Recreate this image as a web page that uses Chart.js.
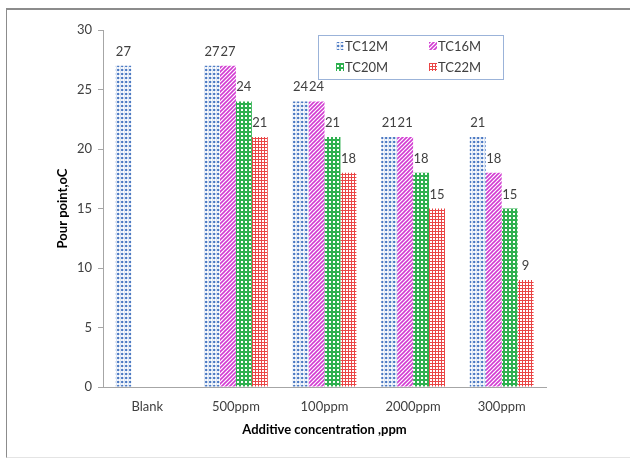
<!DOCTYPE html>
<html>
<head>
<meta charset="utf-8">
<script src="https://cdn.jsdelivr.net/npm/chart.js@4/dist/chart.umd.min.js"></script>
<style>
  html, body { margin: 0; padding: 0; background: #fff; overflow: hidden; }
  #wrap { position: relative; width: 630px; height: 459px; overflow: hidden; }
  #frame { position: absolute; left: 6px; top: 8px; width: 624px; height: 450px;
           border-top: 2px solid #8c8c8c; border-left: 1px solid #8c8c8c;
           border-bottom: 1px solid #e4e4e4; box-sizing: border-box; }
  #c { position: absolute; left: 0; top: 0; }
</style>
</head>
<body>
<div id="wrap">
  <div id="frame"></div>
  <canvas id="c" width="630" height="459"></canvas>
</div>
<script>
// Pour point (°C) per additive concentration
const categories = ['Blank', '500ppm', '100ppm', '2000ppm', '300ppm'];
const seriesNames = ['TC12M', 'TC16M', 'TC20M', 'TC22M'];
const tc12m = [27, 27, 24, 21, 21];
const tc16m = [null, 27, 24, 21, 18];
const tc20m = [null, 24, 21, 18, 15];
const tc22m = [null, 21, 18, 15, 9];
const yTicks = [0, 5, 10, 15, 20, 25, 30];

const FONT = 'Lato, "Open Sans", "Liberation Sans", sans-serif';
const TEXT = '#404040';
const AXIS = '#a6a6a6';

// --- fill patterns -------------------------------------------------------
function makeTile(w, h, paint) {
  const c = document.createElement('canvas');
  c.width = w; c.height = h;
  paint(c.getContext('2d'), w, h);
  return document.createElement('canvas').getContext('2d').createPattern(c, 'repeat');
}
// dotted diamonds, blue
const bluePattern = makeTile(4, 4, (g) => {
  g.fillStyle = '#ffffff'; g.fillRect(0, 0, 4, 4);
  g.fillStyle = '#dbe5f4'; g.fillRect(0, 0, 1, 4);
  g.fillStyle = '#4a78c2';
  g.beginPath(); g.arc(2.2, 2, 1.25, 0, Math.PI * 2); g.fill();
});
// wide upward diagonal, magenta
const magentaPattern = makeTile(4, 4, (g) => {
  g.fillStyle = '#ffffff'; g.fillRect(0, 0, 4, 4);
  g.strokeStyle = '#d23bd2'; g.lineWidth = 1.6;
  [[-1, 1, 1, -1], [0, 4, 4, 0], [3, 5, 5, 3]].forEach(([a, b, c2, d]) => {
    g.beginPath(); g.moveTo(a, b); g.lineTo(c2, d); g.stroke();
  });
});
// green with small white checks
const greenPattern = makeTile(4, 4, (g) => {
  g.fillStyle = '#2eb04f'; g.fillRect(0, 0, 4, 4);
  g.fillStyle = '#ffffff'; g.fillRect(1, 1, 2, 2);
});
// fine red grid
const redPattern = makeTile(3, 3, (g) => {
  g.fillStyle = '#ffffff'; g.fillRect(0, 0, 3, 3);
  g.fillStyle = '#ea4545';
  g.fillRect(0, 0, 3, 1); g.fillRect(0, 0, 1, 3);
});

const fills = [bluePattern, magentaPattern, greenPattern, redPattern];
const values = [tc12m, tc16m, tc20m, tc22m];

// --- value labels above each bar -----------------------------------------
const barValueLabels = {
  id: 'barValueLabels',
  afterDatasetsDraw(chart) {
    const ctx = chart.ctx;
    ctx.save();
    ctx.font = '13px ' + FONT;
    ctx.fillStyle = TEXT;
    ctx.textAlign = 'center';
    ctx.textBaseline = 'alphabetic';
    chart.data.datasets.forEach((ds, i) => {
      chart.getDatasetMeta(i).data.forEach((bar, j) => {
        const v = ds.data[j];
        if (v == null) return;
        ctx.fillText(String(v), bar.x, bar.y - 10);
      });
    });
    ctx.restore();
  }
};

// --- boxed legend, two columns -------------------------------------------
const boxLegend = {
  id: 'boxLegend',
  afterDraw(chart) {
    const ctx = chart.ctx;
    const box = { x: 318.5, y: 35.5, w: 185, h: 44 };
    ctx.save();
    ctx.strokeStyle = '#9bb3d9';
    ctx.lineWidth = 1;
    ctx.strokeRect(box.x, box.y, box.w, box.h);
    ctx.font = '13px ' + FONT;
    ctx.textBaseline = 'middle';
    ctx.textAlign = 'left';
    const cols = [336, 429];
    const rows = [46, 67];
    chart.data.datasets.forEach((ds, i) => {
      const x = cols[i % 2], y = rows[Math.floor(i / 2)];
      ctx.fillStyle = ds.backgroundColor;
      ctx.fillRect(x, y - 4, 8, 8);
      ctx.fillStyle = TEXT;
      ctx.fillText(ds.label, x + 9, y + 1);
    });
    ctx.restore();
  }
};

new Chart(document.getElementById('c'), {
  type: 'bar',
  data: {
    labels: categories,
    datasets: seriesNames.map((name, i) => ({
      label: name,
      data: values[i],
      backgroundColor: fills[i],
      borderWidth: 0,
      categoryPercentage: 0.72,
      barPercentage: 1.0
    }))
  },
  options: {
    responsive: false,
    animation: false,
    devicePixelRatio: 1,
    layout: { padding: { left: 0, right: 84, top: 30, bottom: 0 } },
    plugins: { legend: { display: false }, tooltip: { enabled: false } },
    scales: {
      x: {
        grid: { display: false, drawTicks: false },
        border: { display: true, color: AXIS, width: 1 },
        ticks: { color: TEXT, font: { family: FONT, size: 13 }, padding: 12 },
        title: {
          display: true,
          text: 'Additive concentration ,ppm',
          color: '#000',
          font: { family: FONT, size: 13, weight: 'bold' },
          padding: { top: 0, bottom: 21 }
        },
        afterFit(s) { s.height = 72; }
      },
      y: {
        min: 0,
        max: 30,
        afterBuildTicks(s) { s.ticks = yTicks.map(v => ({ value: v })); },
        grid: { display: true, drawOnChartArea: false, drawTicks: true, tickLength: 5, color: AXIS },
        border: { display: true, color: AXIS, width: 1 },
        ticks: { color: TEXT, font: { family: FONT, size: 13 }, padding: 6 },
        title: {
          display: true,
          text: 'Pour point,oC',
          color: '#000',
          font: { family: FONT, size: 13, weight: 'bold' },
          padding: { top: 55, bottom: 0 }
        },
        afterFit(s) { s.width = 103; }
      }
    }
  },
  plugins: [barValueLabels, boxLegend]
});
</script>
</body>
</html>
